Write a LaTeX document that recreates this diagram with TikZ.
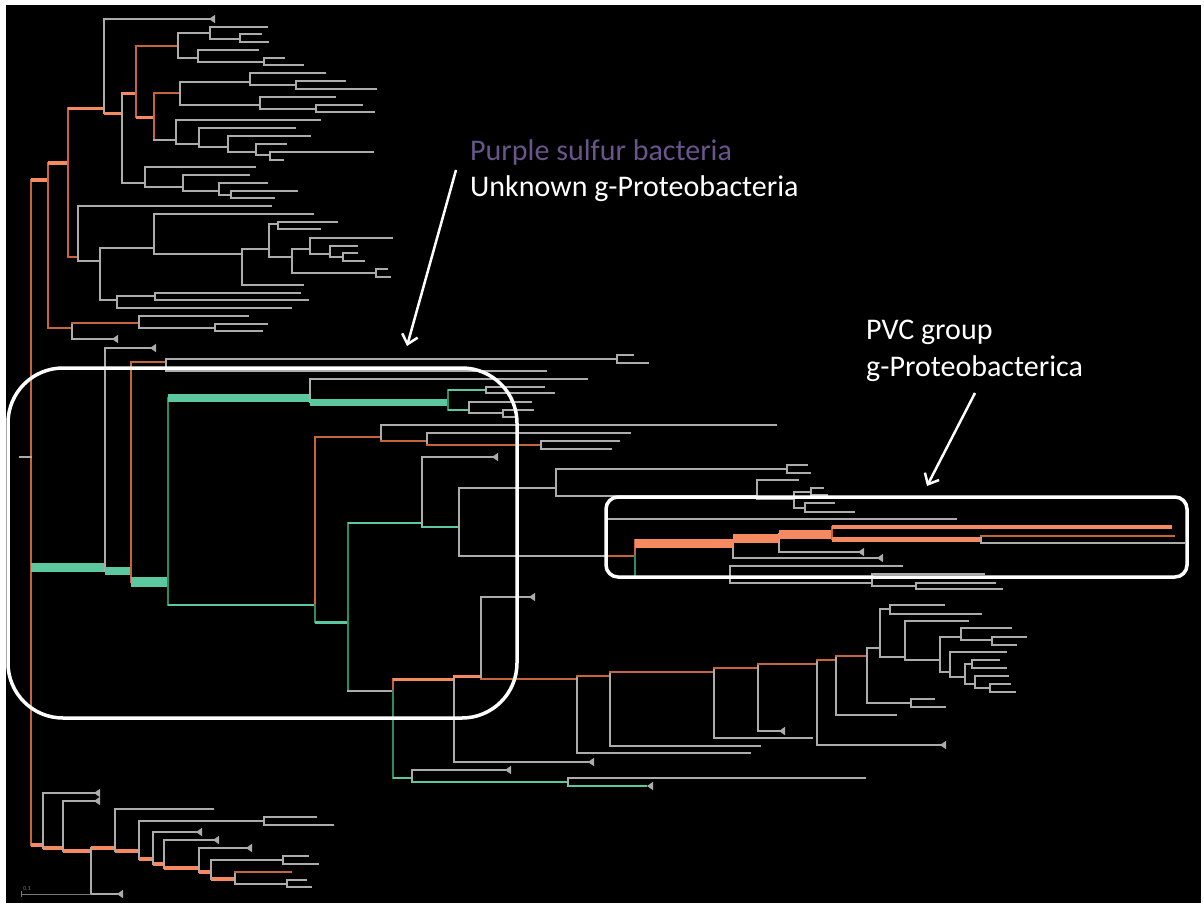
\documentclass[tikz,border=0pt]{standalone}
\usepackage{fontspec}
\setmainfont{Carlito}
\usetikzlibrary{arrows.meta}
\definecolor{lgrey}{RGB}{172,172,172}
\definecolor{sgrey}{RGB}{120,120,120}
\definecolor{dorange}{RGB}{200,100,60}
\definecolor{lorange}{RGB}{245,138,96}
\definecolor{lteal}{RGB}{92,200,160}
\definecolor{dteal}{RGB}{40,140,100}
\definecolor{purp}{RGB}{105,85,140}
\tikzset{
  gb/.style={draw=lgrey, line width=1.5pt, line cap=rect},
  ob/.style={draw=dorange, line width=1.6pt, line cap=rect},
  ot/.style={draw=lorange, line width=#1}, ot/.default=3.5pt,
  tt/.style={draw=lteal, line width=#1}, tt/.default=8pt,
  tm/.style={draw=lteal, line width=#1}, tm/.default=2.5pt,
  tb/.style={draw=dteal, line width=1.6pt, line cap=rect},
  boxline/.style={draw=white, line width=3.5pt},
  lbl/.style={text=white, inner sep=0pt, anchor=base west, font=\fontsize{30}{32}\selectfont},
  pointer/.style={draw=white, line width=2.5pt, -{Straight Barb[length=9pt,width=16pt]}}
}
% branch helpers
\newcommand{\brh}[4][gb]{\draw[#1] (#2,#3) -- (#4,#3);}
\newcommand{\brv}[4][gb]{\draw[#1] (#2,#3) -- (#2,#4);}
\newcommand{\cherry}[5]{\draw[gb] (#4,#2) -- (#1,#2) -- (#1,#3) -- (#5,#3);}
\newcommand{\clps}[2]{\fill[lgrey] (#1,#2) -- ++(6,-4.2) -- ++(0,8.4) -- cycle;}

\begin{document}
\begin{tikzpicture}[x=1pt, y=-1pt]
  \useasboundingbox (0,0) rectangle (1204,905);
  % frame
  \fill[white] (0,0) rectangle (1204,905);
  \fill[black] (6,5) rectangle (1201,903);

  % root
  \brv[ob]{31}{180}{845}
  \brh{20}{457}{31}

  % upper clade
  \brh[ot]{31}{180}{48}
  \brv[ob]{48}{163}{328}
  \brh[ot]{48}{163}{68}
  \brh[ob]{48}{328}{72}
  \brv[ob]{68}{108}{257}
  \brh[ot=3pt]{68}{108}{104}
  \brh[ob]{68}{257}{78}
  \brv{104}{19}{113}
  \brh{104}{19}{209}\clps{209}{19}
  \brh[ot=3pt]{104}{113}{122}
  \brv{122}{93}{183}
  \brh[ot=3pt]{122}{93}{136}
  \brh{122}{183}{145}
  \brv[ob]{136}{46}{117}
  \brh[ob]{136}{46}{178}
  \brh[ot=3pt]{136}{117}{154}
  \cherry{178}{33}{58}{210}{198}
  \cherry{210}{27}{39}{267}{240}
  \cherry{240}{34}{42}{261}{268}
  \cherry{198}{50}{62}{258}{264}
  \cherry{264}{58}{65}{284}{303}
  \brv[ob]{154}{93}{140}
  \brh[ob]{154}{93}{180}
  \brh{154}{140}{176}
  \cherry{180}{82}{105}{250}{260}
  \cherry{250}{73}{85}{325}{296}
  \cherry{296}{81}{89}{345}{376}
  \cherry{260}{97}{109}{335}{316}
  \cherry{316}{105}{112}{362}{374}
  \cherry{176}{120}{144}{320}{199}
  \cherry{199}{128}{147}{295}{228}
  \cherry{228}{136}{152}{310}{256}
  \cherry{256}{144}{155}{286}{270}
  \cherry{270}{152}{160}{373}{283}
  \cherry{145}{167}{187}{255}{183}
  \cherry{183}{175}{191}{249}{219}
  \cherry{219}{183}{195}{267}{231}
  \cherry{231}{191}{198}{297}{274}
  \cherry{78}{206}{261}{271}{100}
  \cherry{100}{248}{300}{154}{117}
  \cherry{154}{214}{254}{313}{242}
  \cherry{242}{249}{285}{269}{303}
  \cherry{269}{224}{257}{278}{292}
  \cherry{278}{222}{229}{337}{320}
  \cherry{292}{249}{273}{310}{376}
  \cherry{310}{238}{254}{392}{330}
  \cherry{330}{246}{257}{357}{343}
  \cherry{343}{253}{261}{357}{364}
  \cherry{376}{269}{277}{387}{390}
  \cherry{117}{296}{308}{155}{291}
  \cherry{155}{293}{300}{300}{308}
  \brv{72}{323}{339}
  \brh[ob]{72}{323}{139}
  \brh{72}{339}{112}\clps{112}{339}
  \cherry{139}{316}{328}{248}{215}
  \cherry{215}{324}{331}{267}{262}

  % middle clade
  \brh[tt=9pt]{31}{567}{105}
  \brv{105}{348}{571}
  \brh{105}{348}{150}\clps{150}{348}
  \brh[tt=8pt]{105}{571}{131}
  \brv[ob]{131}{362}{582}
  \brh[ob]{131}{362}{166}
  \brh[tt=10pt]{131}{582}{168}
  \cherry{166}{359}{371}{617}{546}
  \cherry{617}{355}{363}{633}{648}
  \brv[tb]{168}{398}{605}
  \brh[tt=8pt]{168}{398}{310}
  \brh[tm]{168}{605}{315}
  \brv{310}{379}{402}
  \brh{310}{379}{587}
  \brh[tt=7pt]{310}{402}{448}
  \brv[tb]{448}{390}{410}
  \brh[tm]{448}{390}{486}
  \brh[tm]{448}{410}{469}
  \cherry{486}{387}{393}{544}{554}
  \cherry{469}{402}{413}{531}{503}
  \cherry{503}{410}{417}{533}{514}
  \brv[ob]{315}{437}{605}
  \brv[tb]{315}{605}{622}
  \brh[ob]{315}{437}{381}
  \brh[tm=3pt]{315}{622}{348}
  \brv{381}{425}{441}
  \brh{381}{425}{776}
  \brh[ob]{381}{441}{427}
  \brv{427}{433}{445}
  \brh{427}{433}{630}
  \brh[ob]{427}{445}{541}
  \cherry{541}{441}{449}{619}{611}
  \brv[tb]{348}{523}{691}
  \brh[tm]{348}{523}{422}
  \brh{348}{691}{393}
  \brv{422}{457}{527}
  \brh{422}{457}{492}\clps{492}{457}
  \brh[tm]{422}{527}{459}
  \cherry{459}{488}{556}{556}{607}
  \cherry{556}{469}{496}{787}{757}
  \cherry{787}{465}{473}{807}{810}
  \cherry{757}{480}{499}{798}{794}
  \cherry{794}{492}{508}{811}{805}
  \cherry{811}{488}{495}{823}{827}
  \cherry{805}{503}{512}{834}{854}

  % PVC clade
  \brv{607}{519}{556}
  \brh{607}{519}{956}
  \brh[ob]{607}{556}{635}
  \brv[ob]{635}{540}{556}
  \brv[tb]{635}{556}{577}
  \brh{635}{577}{730}
  \brv{733}{543}{558}
  \brh{733}{558}{877}\clps{877}{558}
  \brv{779}{534}{552}
  \brh{779}{552}{858}\clps{858}{552}
  \brh[ot=9pt]{635}{543}{733}
  \brh[ot=9pt]{733}{538}{779}
  \brh[ot=9pt]{779}{534}{832}
  \brv[ob]{832}{527}{539}
  \brh[ot=4pt]{832}{527}{1172}
  \brh[ot=5pt]{832}{539}{981}
  \brv{981}{536}{543}
  \brh[ob]{981}{536}{1174}
  \brh{981}{543}{1184}
  \cherry{730}{566}{583}{902}{872}
  \cherry{872}{574}{586}{984}{916}
  \cherry{916}{583}{589}{995}{1002}

  % lower clade
  \brv[ob]{393}{679}{691}
  \brv[tb]{393}{691}{778}
  \brh[ot=3pt]{393}{679}{454}
  \brh[tm]{393}{778}{412}
  \brv{454}{676}{762}
  \brh[ot=3pt]{454}{676}{481}
  \brh{454}{762}{588}\clps{588}{762}
  \brv{481}{597}{679}
  \brh{481}{597}{529}\clps{529}{597}
  \brh[ob]{481}{679}{577}
  \brv{577}{676}{753}
  \brh[ob]{577}{676}{610}
  \brh{577}{753}{750}
  \brv{610}{672}{746}
  \brh[ob]{610}{672}{714}
  \brh{610}{746}{760}
  \brv{714}{668}{738}
  \brh[ob]{714}{668}{758}
  \brh{714}{738}{812}
  \brv{758}{664}{731}
  \brh[ob]{758}{664}{817}
  \brh{758}{731}{779}\clps{779}{731}
  \brv{817}{660}{745}
  \brh[ob]{817}{660}{836}
  \brh{817}{745}{940}\clps{940}{745}
  \brv{836}{656}{715}
  \brh[ob]{836}{656}{867}
  \brh{836}{715}{896}
  \cherry{867}{648}{703}{880}{911}
  \cherry{911}{699}{707}{934}{945}
  \cherry{880}{609}{657}{890}{905}
  \cherry{890}{605}{614}{944}{981}
  \cherry{905}{621}{660}{968}{940}
  \cherry{940}{637}{672}{961}{950}
  \cherry{961}{628}{640}{1011}{992}
  \cherry{992}{637}{645}{1026}{1016}
  \cherry{950}{652}{677}{1006}{965}
  \cherry{965}{664}{684}{972}{975}
  \cherry{972}{660}{668}{999}{1006}
  \cherry{975}{676}{688}{1008}{990}
  \cherry{990}{684}{692}{1010}{1015}
  \brv{412}{770}{782}
  \brh{412}{770}{505}\clps{505}{770}
  \brh[tm]{412}{782}{568}
  \brv{568}{778}{786}
  \brh{568}{778}{865}
  \brh[tm]{568}{786}{647}\clps{647}{786}

  % bottom clade
  \brh[ot=4pt]{31}{845}{43}
  \brv{43}{793}{848}
  \brh{43}{793}{94}\clps{94}{793}
  \brh[ot=4pt]{43}{848}{63}
  \brv{63}{801}{851}
  \brh{63}{801}{94}\clps{94}{801}
  \brh[ot=4pt]{63}{851}{91}
  \brv{91}{848}{894}
  \brh[ot=4pt]{91}{848}{115}
  \brh{91}{894}{117}\clps{117}{894}
  \brv{115}{809}{851}
  \brh{115}{809}{213}
  \brh[ot=4pt]{115}{851}{139}
  \brv{139}{821}{859}
  \brh{139}{821}{264}
  \brh[ot=4pt]{139}{859}{153}
  \cherry{264}{817}{825}{316}{333}
  \brv{153}{832}{864}
  \brh{153}{832}{196}\clps{196}{832}
  \brh[ot=4pt]{153}{864}{164}
  \brv{164}{840}{868}
  \brh{164}{840}{213}\clps{213}{840}
  \brh[ot=4pt]{164}{868}{199}
  \brv{199}{848}{872}
  \brh{199}{848}{246}\clps{246}{848}
  \brh[ot=4pt]{199}{872}{211}
  \brv{211}{860}{879}
  \brh{211}{860}{283}
  \brh[ot=4pt]{211}{879}{235}
  \cherry{283}{856}{864}{308}{318}
  \brv{235}{872}{884}
  \brh[ob]{235}{872}{291}
  \brh{235}{884}{287}
  \cherry{287}{880}{887}{306}{311}

  % scale bar
  \draw[sgrey, line width=1pt] (21,891) -- (21,897) (21,894) -- (91,894);
  \node[text=sgrey, inner sep=0pt, anchor=base west, font=\fontsize{6}{6}\selectfont] (scl) at (23,890) {0.1};

  % highlight boxes
  \draw[boxline, rounded corners=55pt] (8,368) rectangle (517,718);
  \draw[boxline, rounded corners=12pt] (606,497) rectangle (1187,577);

  % labels
  \node[lbl, text=purp] (psb) at (470,160) {Purple sulfur bacteria};
  \node[lbl] (ugp) at (470,196) {Unknown g-Proteobacteria};
  \node[lbl] (pvc) at (866,339) {PVC group};
  \node[lbl] (gpr) at (866,376) {g-Proteobacterica};

  % arrows
  \coordinate (a1s) at (456,170);
  \coordinate (a1e) at (407,346);
  \coordinate (a2s) at (975,393);
  \coordinate (a2e) at (927,486);
  \draw[pointer] (a1s) -- (a1e);
  \draw[pointer] (a2s) -- (a2e);
\end{tikzpicture}
\end{document}
